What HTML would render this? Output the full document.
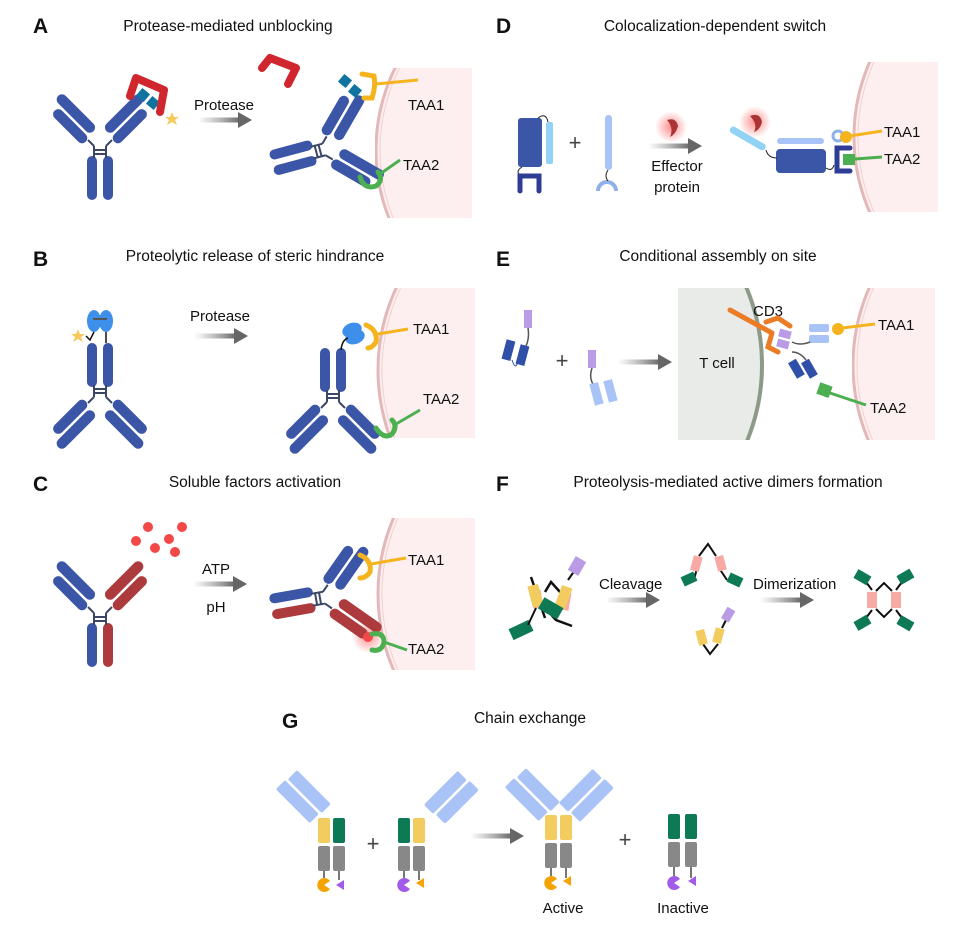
<!DOCTYPE html>
<html><head><meta charset="utf-8"><style>
body{margin:0;background:#fff;}
svg{display:block;font-family:"Liberation Sans",sans-serif;}
.t{font-size:15.5px;fill:#111;text-anchor:middle;}
.L{font-size:21px;font-weight:bold;fill:#111;}
.s{font-size:15px;fill:#111;}
</style></head><body>
<svg width="957" height="927" viewBox="0 0 957 927" xmlns="http://www.w3.org/2000/svg">
<defs>
<linearGradient id="ag" x1="0" x2="1"><stop offset="0" stop-color="#888" stop-opacity="0"/><stop offset="1" stop-color="#666"/></linearGradient>
<radialGradient id="glow"><stop offset="0" stop-color="#f44" stop-opacity=".6"/><stop offset="1" stop-color="#f44" stop-opacity="0"/></radialGradient>
<g id="armR"><g transform="translate(7,-5) rotate(45)"><rect x="-14" y="-58" width="10.5" height="50" rx="5.2"/><rect x="-1" y="-50" width="10.5" height="44" rx="5.2"/></g></g>
<g id="stemL"><rect x="-13" y="8" width="10" height="44" rx="5"/></g>
<g id="stemR"><rect x="3" y="8" width="10" height="44" rx="5"/></g>
<g id="halfR"><use href="#armR"/><use href="#stemR"/></g>
<g id="halfL"><g transform="scale(-1,1)"><use href="#armR"/></g><use href="#stemL"/></g>
<g id="hinge"><path d="M-6,10 V-2 M6,10 V-2 M-6,2 H6 M-6,6 H6 M-6,-2 L-12,-8 M6,-2 L12,-8" stroke="#3c4766" stroke-width="2" fill="none"/></g>
<g id="ab"><use href="#halfL"/><use href="#halfR"/><use href="#hinge"/></g>
<g id="arrow"><rect x="0" y="-2.5" width="42" height="5" fill="url(#ag)"/><polygon points="40,-8 54,0 40,8" fill="#666"/></g>
<clipPath id="cA"><rect x="375" y="68" width="97" height="150"/></clipPath>
<clipPath id="cB"><rect x="375" y="288" width="100" height="150"/></clipPath>
<clipPath id="cC"><rect x="375" y="518" width="100" height="152"/></clipPath>
<clipPath id="cD"><rect x="838" y="62" width="100" height="150"/></clipPath>
<clipPath id="cE"><rect x="852" y="288" width="83" height="152"/></clipPath>
<clipPath id="cT"><rect x="678" y="288" width="90" height="152"/></clipPath>
</defs>

<!-- A -->
<text x="33" y="33" class="L">A</text>
<text x="228" y="31" class="t">Protease-mediated unblocking</text>
<g clip-path="url(#cA)"><circle cx="562" cy="150" r="186" fill="#fdeff0" stroke="#e4b8b8" stroke-width="3"/><circle cx="562" cy="150" r="182" fill="none" stroke="#f0d0d0" stroke-width="1"/></g>
<use href="#ab" x="100" y="148" fill="#3b56a6"/>
<rect x="138" y="90" width="10" height="10" fill="#0f73a0" transform="rotate(40 143 95)"/>
<rect x="148" y="98" width="10" height="10" fill="#0f73a0" transform="rotate(40 153 103)"/>
<path d="M130,96 L136,78 L164,90 L160,112" stroke="#d0262e" stroke-width="8" fill="none" stroke-linejoin="round" stroke-linecap="round"/>
<polygon points="172,112 174,117 179,117 175,120 177,125 172,122 167,125 169,120 165,117 170,117" fill="#f6c95c"/>
<use href="#arrow" x="198" y="120"/>
<text x="224" y="110" class="s" text-anchor="middle">Protease</text>
<path d="M262,68 L270,58 L296,68 L288,84" stroke="#d0262e" stroke-width="8" fill="none" stroke-linejoin="round" stroke-linecap="round"/>
<g transform="translate(322,150) rotate(75)"><use href="#ab" fill="#3b56a6"/></g>
<rect x="340" y="76" width="10" height="10" fill="#0f73a0" transform="rotate(40 345 81)"/>
<rect x="350" y="86" width="10" height="10" fill="#0f73a0" transform="rotate(40 355 91)"/>
<path d="M362,74 L374,76 Q376,86 372,98 L364,98" stroke="#f5b41e" stroke-width="5" fill="none" stroke-linecap="round"/>
<line x1="376" y1="84" x2="418" y2="80" stroke="#f5b41e" stroke-width="3"/>
<text x="408" y="110" class="s">TAA1</text>
<path d="M360,177 Q364,190 376,186 Q384,180 378,172" stroke="#4caf50" stroke-width="5" fill="none" stroke-linecap="round"/>
<line x1="380" y1="174" x2="400" y2="160" stroke="#4caf50" stroke-width="3"/>
<text x="403" y="170" class="s">TAA2</text>

<!-- B -->
<text x="33" y="266" class="L">B</text>
<text x="255" y="261" class="t">Proteolytic release of steric hindrance</text>
<g clip-path="url(#cB)"><circle cx="572" cy="370" r="194" fill="#fdeff0" stroke="#e4b8b8" stroke-width="3"/><circle cx="572" cy="370" r="190" fill="none" stroke="#f0d0d0" stroke-width="1"/></g>
<g transform="translate(100,395) rotate(180)"><use href="#ab" fill="#3b56a6"/></g>
<ellipse cx="94" cy="321" rx="7" ry="11" fill="#3d8fea"/><ellipse cx="106" cy="321" rx="7" ry="11" fill="#3d8fea"/>
<line x1="93" y1="319" x2="107" y2="319" stroke="#555" stroke-width="2"/>
<path d="M94,332 L90,340 L86,336 M106,332 V343" stroke="#111" stroke-width="1.5" fill="none"/>
<polygon points="78,329 80,334 85,334 81,337 83,342 78,339 73,342 75,337 71,334 76,334" fill="#f6c95c"/>
<use href="#arrow" x="194" y="336"/>
<text x="220" y="321" class="s" text-anchor="middle">Protease</text>
<g transform="translate(333,400) rotate(180)"><use href="#ab" fill="#3b56a6"/></g>
<ellipse cx="352" cy="330" rx="10" ry="7" fill="#3d8fea" transform="rotate(-20 352 330)"/><ellipse cx="355" cy="337" rx="10" ry="7" fill="#3d8fea" transform="rotate(-20 355 337)"/>
<path d="M341,350 Q342,340 348,338" stroke="#111" stroke-width="1.5" fill="none"/>
<path d="M366,325 Q378,330 376,342 Q372,348 368,348" stroke="#f5b41e" stroke-width="5" fill="none" stroke-linecap="round"/>
<line x1="378" y1="334" x2="408" y2="329" stroke="#f5b41e" stroke-width="3"/>
<text x="413" y="334" class="s">TAA1</text>
<path d="M376,428 Q384,440 392,434 Q398,426 392,420" stroke="#4caf50" stroke-width="5" fill="none" stroke-linecap="round"/>
<line x1="396" y1="424" x2="420" y2="410" stroke="#4caf50" stroke-width="3"/>
<text x="423" y="404" class="s">TAA2</text>

<!-- C -->
<text x="33" y="491" class="L">C</text>
<text x="255" y="487" class="t">Soluble factors activation</text>
<g clip-path="url(#cC)"><circle cx="572" cy="594" r="194" fill="#fdeff0" stroke="#e4b8b8" stroke-width="3"/><circle cx="572" cy="594" r="190" fill="none" stroke="#f0d0d0" stroke-width="1"/></g>
<g fill="#f24848"><circle cx="148" cy="527" r="5"/><circle cx="182" cy="527" r="5"/><circle cx="136" cy="541" r="5"/><circle cx="155" cy="548" r="5"/><circle cx="169" cy="539" r="5"/><circle cx="175" cy="552" r="5"/></g>
<g transform="translate(100,615)"><use href="#halfL" fill="#3b56a6"/><use href="#halfR" fill="#ad3a3c"/><use href="#hinge"/></g>
<use href="#arrow" x="193" y="584"/>
<text x="216" y="574" class="s" text-anchor="middle">ATP</text>
<text x="216" y="612" class="s" text-anchor="middle">pH</text>
<circle cx="368" cy="637" r="16" fill="url(#glow)"/>
<g transform="translate(322,598) rotate(80)"><use href="#halfL" fill="#3b56a6"/><use href="#halfR" fill="#ad3a3c"/><use href="#hinge"/></g>
<circle cx="368" cy="637" r="5" fill="#f24848"/>
<path d="M360,555 Q372,560 370,572 Q366,578 360,578" stroke="#f5b41e" stroke-width="5" fill="none" stroke-linecap="round"/>
<line x1="371" y1="564" x2="406" y2="558" stroke="#f5b41e" stroke-width="3"/>
<text x="408" y="565" class="s">TAA1</text>
<path d="M372,634 Q384,632 384,642 Q382,652 372,650" stroke="#4caf50" stroke-width="5" fill="none" stroke-linecap="round"/>
<line x1="384" y1="642" x2="407" y2="650" stroke="#4caf50" stroke-width="3"/>
<text x="408" y="654" class="s">TAA2</text>

<!-- D -->
<text x="496" y="33" class="L">D</text>
<text x="715" y="31" class="t">Colocalization-dependent  switch</text>
<g clip-path="url(#cD)"><circle cx="1042" cy="137" r="188" fill="#fdeff0" stroke="#e4b8b8" stroke-width="3"/><circle cx="1042" cy="137" r="184" fill="none" stroke="#f0d0d0" stroke-width="1"/></g>
<rect x="518" y="118" width="24" height="49" rx="3" fill="#3b56a6"/>
<rect x="546" y="122" width="7" height="42" rx="2" fill="#92d3f5"/>
<path d="M538,118 Q546,112 548,122 M522,167 Q514,172 522,176" stroke="#222" stroke-width="1" fill="none"/>
<path d="M520,191 V176 H539 V191" stroke="#2e3c96" stroke-width="5" fill="none" stroke-linecap="round"/>
<text x="575" y="150" font-size="22" text-anchor="middle" fill="#444">+</text>
<rect x="605" y="115" width="7" height="55" rx="3.5" fill="#a9c3f7"/>
<path d="M598,191 A9,9 0 0 1 616,191" stroke="#8fb0e8" stroke-width="4" fill="none"/>
<path d="M608,170 Q604,176 608,181" stroke="#222" stroke-width="1" fill="none"/>
<circle cx="671" cy="127" r="16" fill="url(#glow)"/>
<path d="M667,120 Q676,117 678,126 Q676,134 670,137 Q674,128 667,120Z" fill="#a33"/>
<use href="#arrow" x="648" y="146"/>
<text x="677" y="171" class="s" text-anchor="middle">Effector</text>
<text x="677" y="192" class="s" text-anchor="middle">protein</text>
<rect x="728" y="135" width="40" height="7" rx="3" fill="#92d3f5" transform="rotate(30 748 138)"/>
<circle cx="755" cy="122" r="16" fill="url(#glow)"/>
<path d="M750,116 Q760,112 762,122 Q760,130 754,132 Q758,124 750,116Z" fill="#a33"/>
<rect x="777" y="138" width="47" height="6" rx="3" fill="#a9c3f7"/>
<rect x="776" y="149" width="50" height="24" rx="4" fill="#3b56a6"/>
<path d="M766,150 Q768,158 777,158 M826,168 Q832,172 834,165" stroke="#222" stroke-width="1" fill="none"/>
<path d="M850,148 H837 V171 H850" stroke="#2e3c96" stroke-width="5" fill="none" stroke-linecap="round"/>
<circle cx="838" cy="136" r="5" fill="none" stroke="#8fb0e8" stroke-width="3"/>
<circle cx="846" cy="137" r="6" fill="#f5b41e"/>
<line x1="850" y1="136" x2="882" y2="131" stroke="#f5b41e" stroke-width="3"/>
<text x="884" y="137" class="s">TAA1</text>
<rect x="843" y="154" width="12" height="11" fill="#4caf50"/>
<line x1="855" y1="159" x2="882" y2="157" stroke="#4caf50" stroke-width="3"/>
<text x="884" y="164" class="s">TAA2</text>

<!-- E -->
<text x="496" y="266" class="L">E</text>
<text x="718" y="261" class="t">Conditional assembly on site</text>
<g clip-path="url(#cT)"><circle cx="562" cy="365" r="200" fill="#e9ebe8" stroke="#8e9a88" stroke-width="4"/></g>
<g clip-path="url(#cE)"><circle cx="1045" cy="365" r="192" fill="#fdeff0" stroke="#e4b8b8" stroke-width="3"/><circle cx="1045" cy="365" r="188" fill="none" stroke="#f0d0d0" stroke-width="1"/></g>
<rect x="524" y="310" width="8" height="18" fill="#b99be6"/>
<path d="M528,328 Q530,340 524,350" stroke="#555" stroke-width="1.5" fill="none"/>
<rect x="504" y="340" width="9" height="20" fill="#2f4fa8" transform="rotate(15 508 350)"/>
<rect x="518" y="345" width="9" height="20" fill="#2f4fa8" transform="rotate(15 522 355)"/>
<path d="M512,360 Q516,372 518,360" stroke="#2f4fa8" stroke-width="1" fill="none"/>
<text x="562" y="368" font-size="22" text-anchor="middle" fill="#444">+</text>
<rect x="588" y="350" width="8" height="18" fill="#b99be6"/>
<path d="M592,368 Q588,380 596,388" stroke="#555" stroke-width="1.5" fill="none"/>
<rect x="592" y="383" width="9" height="22" fill="#a9c3f7" transform="rotate(-15 596 394)"/>
<rect x="606" y="380" width="9" height="22" fill="#a9c3f7" transform="rotate(-15 610 391)"/>
<use href="#arrow" x="618" y="362"/>
<text x="717" y="368" class="s" text-anchor="middle">T cell</text>
<text x="753" y="316" class="s">CD3</text>
<path d="M730,310 L772,333 M766,322 L778,318 L790,326 M772,333 L768,347 L778,352" stroke="#ec7b25" stroke-width="5" fill="none" stroke-linecap="round"/>
<rect x="779" y="330" width="12" height="8" fill="#b99be6" transform="rotate(15 785 334)"/>
<rect x="777" y="340" width="12" height="8" fill="#b99be6" transform="rotate(15 783 344)"/>
<rect x="809" y="324" width="20" height="8" rx="2" fill="#a9c3f7"/>
<rect x="809" y="335" width="20" height="8" rx="2" fill="#a9c3f7"/>
<path d="M792,342 Q800,346 810,342" stroke="#555" stroke-width="1.5" fill="none"/>
<circle cx="838" cy="329" r="6" fill="#f5b41e"/>
<line x1="842" y1="328" x2="875" y2="324" stroke="#f5b41e" stroke-width="3"/>
<text x="878" y="330" class="s">TAA1</text>
<rect x="792" y="360" width="9" height="18" fill="#2f4fa8" transform="rotate(-30 796 369)"/>
<rect x="805" y="360" width="9" height="18" fill="#2f4fa8" transform="rotate(-30 809 369)"/>
<path d="M792,352 Q800,352 806,360" stroke="#555" stroke-width="1.5" fill="none"/>
<rect x="818" y="384" width="13" height="12" fill="#4caf50" transform="rotate(20 824 390)"/>
<line x1="830" y1="393" x2="866" y2="405" stroke="#4caf50" stroke-width="3"/>
<text x="870" y="413" class="s">TAA2</text>

<!-- F -->
<text x="496" y="491" class="L">F</text>
<text x="728" y="487" class="t">Proteolysis-mediated active dimers formation</text>
<g>
<path d="M531,577 L545,618 M545,592 L551,582 L560,592 M547,610 L556,620 L572,626" stroke="#111" stroke-width="2.5" fill="none"/>
<rect x="532" y="590" width="10" height="18" fill="#f7a9a4" transform="rotate(-10 537 599)"/>
<rect x="560" y="592" width="10" height="18" fill="#f7a9a4" transform="rotate(10 565 601)"/>
<rect x="530" y="585" width="11" height="22" fill="#f2cc5e" transform="rotate(-15 535 596)"/>
<rect x="558" y="586" width="11" height="22" fill="#f2cc5e" transform="rotate(20 563 597)"/>
<rect x="540" y="602" width="22" height="13" fill="#0d7a55" transform="rotate(30 551 608)"/>
<rect x="510" y="624" width="22" height="12" fill="#0d7a55" transform="rotate(-25 521 630)"/>
<line x1="528" y1="625" x2="536" y2="608" stroke="#111" stroke-width="2"/>
<line x1="568" y1="580" x2="575" y2="570" stroke="#111" stroke-width="2"/>
<rect x="571" y="558" width="12" height="16" fill="#b99be6" transform="rotate(30 577 566)"/>
</g>
<use href="#arrow" x="606" y="600"/>
<text x="599" y="589" class="s">Cleavage</text>
<path d="M699,556 L708,544 L716,556 M697,568 L694,580 M719,568 L727,580" stroke="#111" stroke-width="2" fill="none"/>
<rect x="692" y="556" width="9" height="15" fill="#f7a9a4" transform="rotate(15 696 563)"/>
<rect x="716" y="556" width="9" height="15" fill="#f7a9a4" transform="rotate(-15 720 563)"/>
<rect x="682" y="574" width="14" height="10" fill="#0d7a55" transform="rotate(-25 689 579)"/>
<rect x="728" y="575" width="14" height="10" fill="#0d7a55" transform="rotate(25 735 580)"/>
<path d="M703,644 L710,654 L718,644" stroke="#111" stroke-width="2" fill="none"/>
<rect x="697" y="630" width="9" height="15" fill="#f2cc5e" transform="rotate(-15 701 637)"/>
<rect x="714" y="628" width="9" height="15" fill="#f2cc5e" transform="rotate(15 718 635)"/>
<line x1="722" y1="628" x2="726" y2="620" stroke="#111" stroke-width="2"/>
<rect x="724" y="608" width="9" height="13" fill="#b99be6" transform="rotate(30 728 614)"/>
<use href="#arrow" x="760" y="600"/>
<text x="753" y="589" class="s">Dimerization</text>
<path d="M876,591 L884,583 L892,591 M876,609 L884,617 L892,609 M872,590 L866,582 M896,590 L902,582 M872,610 L866,618 M896,610 L902,618" stroke="#111" stroke-width="2" fill="none"/>
<rect x="867" y="592" width="10" height="16" fill="#f7a9a4"/>
<rect x="891" y="592" width="10" height="16" fill="#f7a9a4"/>
<g fill="#0d7a55">
<rect x="855" y="572" width="15" height="10" transform="rotate(30 862 577)"/>
<rect x="898" y="572" width="15" height="10" transform="rotate(-30 905 577)"/>
<rect x="855" y="618" width="15" height="10" transform="rotate(-30 862 623)"/>
<rect x="898" y="618" width="15" height="10" transform="rotate(30 905 623)"/>
</g>

<!-- G -->
<text x="282" y="728" class="L">G</text>
<text x="530" y="723" class="t">Chain exchange</text>
<g fill="#a9c3f7">
<rect x="291" y="778" width="13" height="48" rx="2" transform="rotate(-45 297 802)"/>
<rect x="303" y="768" width="13" height="48" rx="2" transform="rotate(-45 309 792)"/>
<rect x="439" y="768" width="13" height="48" rx="2" transform="rotate(45 445 792)"/>
<rect x="451" y="778" width="13" height="48" rx="2" transform="rotate(45 457 802)"/>
<rect x="520" y="776" width="13" height="48" rx="2" transform="rotate(-45 526 800)"/>
<rect x="532" y="766" width="13" height="48" rx="2" transform="rotate(-45 538 790)"/>
<rect x="574" y="766" width="13" height="48" rx="2" transform="rotate(45 580 790)"/>
<rect x="586" y="776" width="13" height="48" rx="2" transform="rotate(45 592 800)"/>
</g>
<g>
<rect x="318" y="818" width="12" height="25" rx="2" fill="#f2cc5e"/><rect x="333" y="818" width="12" height="25" rx="2" fill="#0d7a55"/>
<rect x="318" y="846" width="12" height="25" rx="2" fill="#888"/><rect x="333" y="846" width="12" height="25" rx="2" fill="#888"/>
<rect x="398" y="818" width="12" height="25" rx="2" fill="#0d7a55"/><rect x="413" y="818" width="12" height="25" rx="2" fill="#f2cc5e"/>
<rect x="398" y="846" width="12" height="25" rx="2" fill="#888"/><rect x="413" y="846" width="12" height="25" rx="2" fill="#888"/>
<rect x="545" y="815" width="12" height="25" rx="2" fill="#f2cc5e"/><rect x="560" y="815" width="12" height="25" rx="2" fill="#f2cc5e"/>
<rect x="545" y="843" width="12" height="25" rx="2" fill="#888"/><rect x="560" y="843" width="12" height="25" rx="2" fill="#888"/>
<rect x="668" y="814" width="12" height="25" rx="2" fill="#0d7a55"/><rect x="685" y="814" width="12" height="25" rx="2" fill="#0d7a55"/>
<rect x="668" y="842" width="12" height="25" rx="2" fill="#888"/><rect x="685" y="842" width="12" height="25" rx="2" fill="#888"/>
</g>
<g stroke="#777" stroke-width="2">
<line x1="324" y1="871" x2="324" y2="878"/><line x1="339" y1="871" x2="339" y2="880"/>
<line x1="404" y1="871" x2="404" y2="878"/><line x1="419" y1="871" x2="419" y2="880"/>
<line x1="551" y1="868" x2="551" y2="876"/><line x1="566" y1="868" x2="566" y2="878"/>
<line x1="674" y1="867" x2="674" y2="876"/><line x1="691" y1="867" x2="691" y2="878"/>
</g>
<path d="M324,885 L330,881 A7,7 0 1 0 330,889 Z" fill="#f5a300"/>
<polygon points="344,880 344,890 336,885" fill="#a25ae8"/>
<path d="M404,885 L410,881 A7,7 0 1 0 410,889 Z" fill="#a25ae8"/>
<polygon points="424,878 424,888 416,883" fill="#f5a300"/>
<path d="M551,883 L557,879 A7,7 0 1 0 557,887 Z" fill="#f5a300"/>
<polygon points="571,876 571,886 563,881" fill="#f5a300"/>
<path d="M674,883 L680,879 A7,7 0 1 0 680,887 Z" fill="#a25ae8"/>
<polygon points="696,876 696,886 688,881" fill="#a25ae8"/>
<text x="373" y="851" font-size="22" text-anchor="middle" fill="#444">+</text>
<use href="#arrow" x="470" y="836"/>
<text x="625" y="847" font-size="22" text-anchor="middle" fill="#444">+</text>
<text x="563" y="913" class="s" text-anchor="middle">Active</text>
<text x="683" y="913" class="s" text-anchor="middle">Inactive</text>
</svg>
</body></html>
